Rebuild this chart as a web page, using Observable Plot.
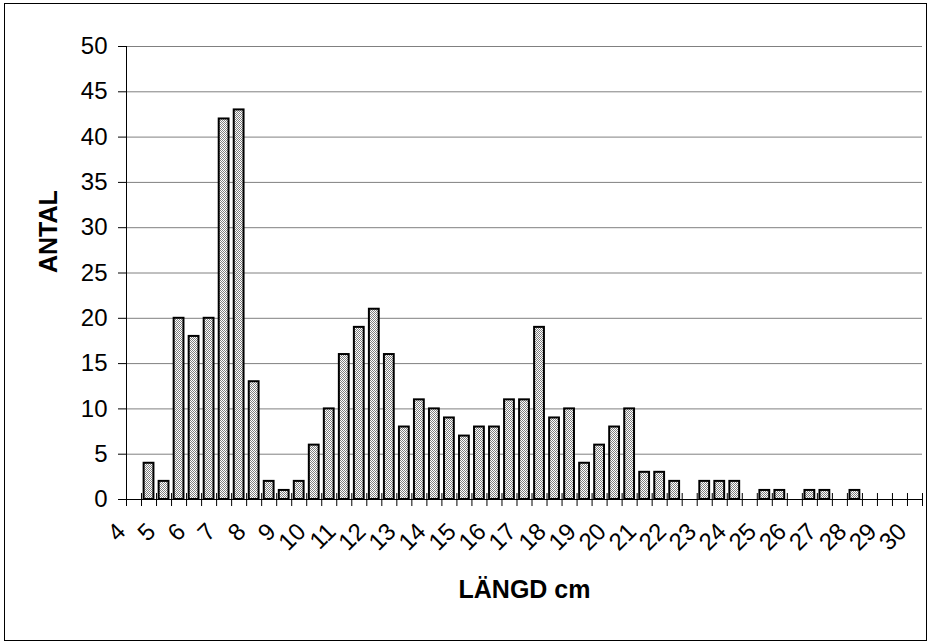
<!DOCTYPE html>
<html><head><meta charset="utf-8">
<script src="https://cdn.jsdelivr.net/npm/d3@7"></script>
<script src="https://cdn.jsdelivr.net/npm/@observablehq/plot@0.6"></script>
<style>
html,body{margin:0;padding:0;background:#fff;}
#wrap{position:relative;width:931px;height:644px;overflow:hidden;}
#border{position:absolute;left:4px;top:3px;width:923px;height:638px;border:1.5px solid #000;box-sizing:border-box;pointer-events:none;}
</style></head>
<body><div id="wrap"><div id="border"></div></div>
<script>
// Half-centimetre length classes (start of each class) and counts
const lengthBins = [4,4.5,5,5.5,6,6.5,7,7.5,8,8.5,9,9.5,10,10.5,11,11.5,12,12.5,13,13.5,14,14.5,15,15.5,16,16.5,17,17.5,18,18.5,19,19.5,20,20.5,21,21.5,22,22.5,23,23.5,24,24.5,25,25.5,26,26.5,27,27.5,28,28.5,29,29.5,30];
const counts = [0,4,2,20,18,20,42,43,13,2,1,2,6,10,16,19,21,16,8,11,10,9,7,8,8,11,11,19,9,10,4,6,8,10,3,3,2,0,2,2,2,0,1,1,0,1,1,0,1,0,0,0,0];
const binWidth = 0.5;
const xLabels = [4,5,6,7,8,9,10,11,12,13,14,15,16,17,18,19,20,21,22,23,24,25,26,27,28,29,30];
const yTicks = [0,5,10,15,20,25,30,35,40,45,50];
const xTitle = "LÄNGD cm";
const yTitle = "ANTAL";

const data = lengthBins.map((l, i) => ({length: l, count: counts[i]}));
const edges = [...lengthBins, lengthBins[lengthBins.length - 1] + binWidth];

const plot = Plot.plot({
  width: 931, height: 644,
  marginLeft: 126, marginRight: 9, marginTop: 46, marginBottom: 145,
  style: {fontFamily: "'Liberation Sans', Arial, sans-serif", fontSize: "24px", color: "#000", background: "transparent"},
  x: {type: "linear", domain: [edges[0], edges[edges.length - 1]]},
  y: {domain: [0, 50]},
  marks: [
    Plot.gridY(yTicks, {stroke: "#808080", strokeOpacity: 1, strokeWidth: 1}),
    Plot.axisX(edges, {tickSize: 13, dy: -6, text: null, label: null, stroke: "#000"}),
    Plot.rectY(data.filter(d => d.count > 0), {
      x1: "length", x2: d => d.length + binWidth, y1: 0, y2: "count",
      insetLeft: 2.6, insetRight: 2.6,
      fill: "url(#stipple)", stroke: "#000", strokeWidth: 2
    }),
    Plot.ruleY([0], {stroke: "#000"}),
    Plot.ruleX([edges[0]], {stroke: "#000"}),
    Plot.axisY(yTicks, {tickSize: 8, tickPadding: 11, fontSize: 24, label: null}),
    Plot.axisX(xLabels, {tickSize: 0, tickPadding: 28, dx: -5, tickRotate: -45, textAnchor: "end", lineAnchor: "middle", fontSize: 24, label: null}),
    Plot.text([yTitle], {frameAnchor: "left", dx: -78, rotate: -90, fontWeight: "bold", fontSize: 25}),
    Plot.text([xTitle], {frameAnchor: "bottom", dy: 98, fontWeight: "bold", fontSize: 25})
  ]
});

const ns = "http://www.w3.org/2000/svg";
const defs = document.createElementNS(ns, "defs");
defs.innerHTML = '<pattern id="stipple" width="2" height="2" patternUnits="userSpaceOnUse"><rect width="2" height="2" fill="#ffffff"/><rect width="1" height="1" fill="#808080"/><rect x="1" y="1" width="1" height="1" fill="#808080"/></pattern>';
plot.prepend(defs);
plot.style.position = "absolute";
plot.style.left = "0";
plot.style.top = "0";
document.getElementById("wrap").prepend(plot);
</script>
</body></html>
